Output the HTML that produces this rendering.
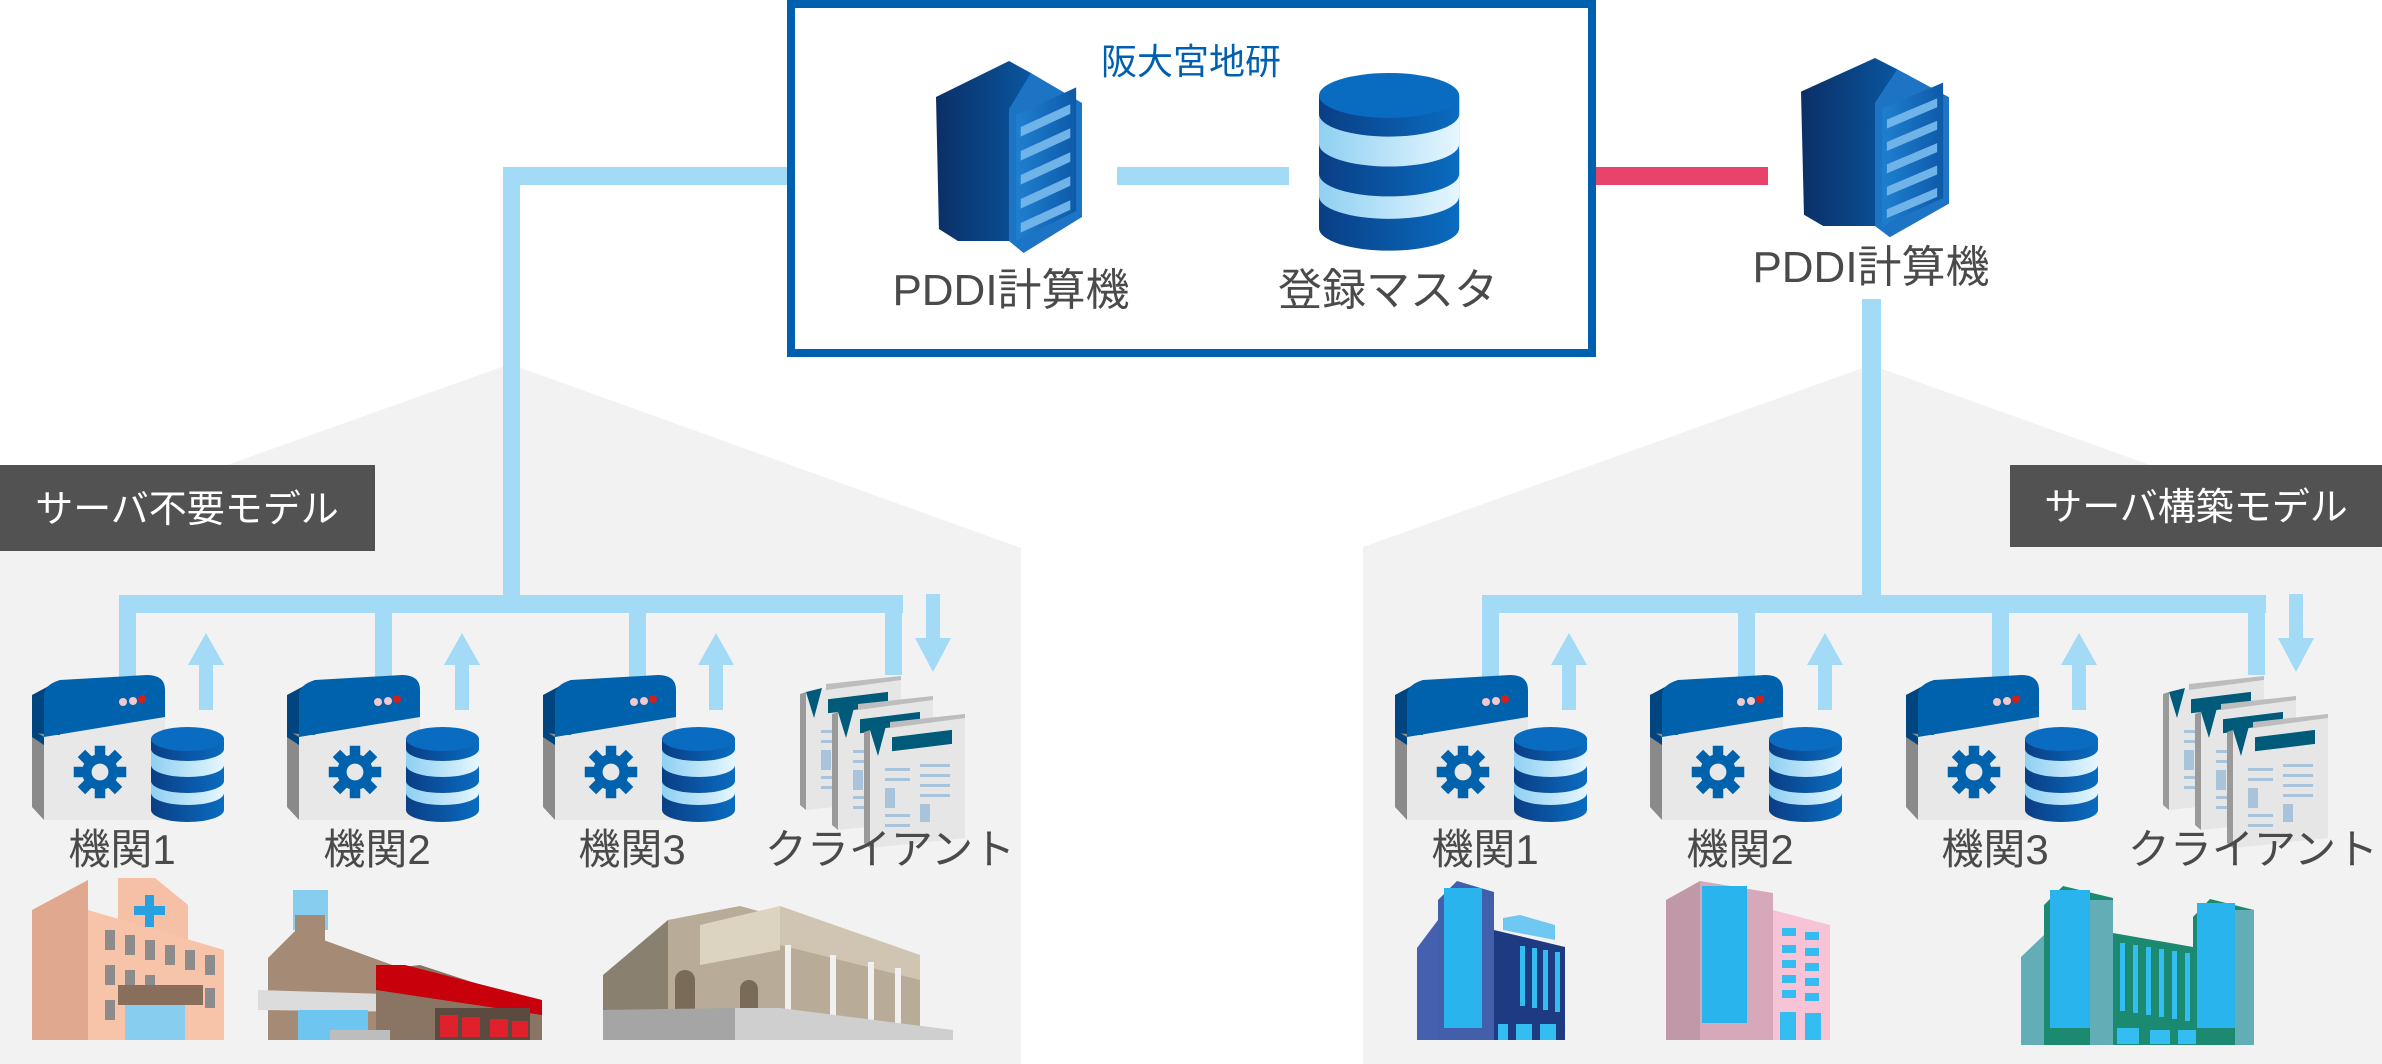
<!DOCTYPE html>
<html><head><meta charset="utf-8"><style>
html,body{margin:0;padding:0;background:#fff;}
svg{display:block;}
text{font-family:"Liberation Sans","Noto Sans CJK JP",sans-serif;}
</style></head><body>
<svg width="2382" height="1064" viewBox="0 0 2382 1064" xmlns="http://www.w3.org/2000/svg">
<defs>
<linearGradient id="srvS" x1="0" x2="1"><stop offset="0" stop-color="#0b2f66"/><stop offset="1" stop-color="#0a56a0"/></linearGradient>
<linearGradient id="srvF" x1="0" x2="1"><stop offset="0" stop-color="#1f7fd0"/><stop offset="1" stop-color="#0d5aa8"/></linearGradient>
<linearGradient id="dbD" x1="0" x2="1"><stop offset="0" stop-color="#0a3e85"/><stop offset="1" stop-color="#0a6cc0"/></linearGradient>
<linearGradient id="dbL" x1="0" x2="1"><stop offset="0" stop-color="#8fd0f2"/><stop offset="1" stop-color="#e6f6ff"/></linearGradient>
<g id="server">
  <polygon points="0,30 50,0 65,10 65,150 15,150 2,140" fill="url(#srvS)"/>
  <polygon points="65,10 100,35 100,130 60,160 50,150 50,40" fill="#1d74c4"/>
  <polygon points="55,45 96,22 96,125 55,150" fill="url(#srvF)"/>
  <g fill="#6fb3e8">
    <polygon points="58,55 92,36 92,44 58,63"/>
    <polygon points="58,75 92,56 92,64 58,83"/>
    <polygon points="58,95 92,76 92,84 58,103"/>
    <polygon points="58,115 92,96 92,104 58,123"/>
    <polygon points="58,135 92,116 92,124 58,143"/>
  </g>
</g>
<g id="db">
  <rect x="0" y="12" width="73" height="71" fill="url(#dbD)"/>
  <ellipse cx="36.5" cy="83" rx="36.5" ry="12" fill="url(#dbD)"/>
  <rect x="0" y="52" width="73" height="14" fill="url(#dbL)"/>
  <ellipse cx="36.5" cy="66" rx="36.5" ry="12" fill="url(#dbL)"/>
  <rect x="0" y="42" width="73" height="12" fill="url(#dbD)"/>
  <ellipse cx="36.5" cy="54" rx="36.5" ry="12" fill="url(#dbD)"/>
  <rect x="0" y="22" width="73" height="16" fill="url(#dbL)"/>
  <ellipse cx="36.5" cy="38" rx="36.5" ry="12" fill="url(#dbL)"/>
  <rect x="0" y="12" width="73" height="10" fill="url(#dbD)"/>
  <ellipse cx="36.5" cy="22" rx="36.5" ry="12" fill="url(#dbD)"/>
  <ellipse cx="36.5" cy="12" rx="36.5" ry="12" fill="#0a6cc0"/>
</g>
<g id="gear">
  <g fill="#0062ad">
    <circle cx="0" cy="0" r="17"/>
    <rect x="-5" y="-25" width="10" height="50"/>
    <rect x="-5" y="-25" width="10" height="50" transform="rotate(45)"/>
    <rect x="-5" y="-25" width="10" height="50" transform="rotate(90)"/>
    <rect x="-5" y="-25" width="10" height="50" transform="rotate(135)"/>
  </g>
  <circle cx="0" cy="0" r="8" fill="#e8e8e8"/>
</g>
<g id="inst">
  <polygon points="0,50 12,40 12,145 0,132" fill="#8a8a8a"/>
  <rect x="12" y="40" width="121" height="105" fill="#e8e8e8"/>
  <polygon points="0,20 28,5 28,60 0,58" fill="#00457f"/>
  <path d="M12,20 Q12,10 28,5 L115,0 Q133,0 133,15 L133,42 L12,62 Z" fill="#0062ad"/>
  <polygon points="0,55 12,62 12,70 0,62" fill="#00457f"/>
  <circle cx="91" cy="27" r="4" fill="#f2c8cc"/><circle cx="101" cy="26" r="4" fill="#f2c8cc"/><circle cx="110" cy="24" r="4" fill="#d0201c"/>
  <use href="#gear" transform="translate(68,97) scale(1.05)"/>
  <use href="#db" transform="translate(119,52)"/>
</g>
<g id="page">
  <polygon points="0,12 95,0 95,120 0,130" fill="#e6e6e6"/>
  <polygon points="0,12 0,130 -6,125 -6,14" fill="#9a9a9a"/>
  <polygon points="20,10 95,0 95,-4 20,4" fill="#bdbdbd"/>
  <polygon points="0,12 16,8 8,38" fill="#005a7a"/>
  <rect x="22" y="22" width="60" height="14" fill="#005a7a" transform="skewY(-7)"/>
  <g fill="#a9c4da"><rect x="15" y="50" width="25" height="3"/><rect x="50" y="46" width="30" height="3"/><rect x="15" y="60" width="25" height="3"/><rect x="50" y="56" width="30" height="3"/><rect x="15" y="70" width="10" height="20"/><rect x="50" y="66" width="30" height="3"/><rect x="50" y="76" width="30" height="3"/><rect x="15" y="96" width="25" height="3"/><rect x="50" y="86" width="10" height="18"/><rect x="15" y="106" width="25" height="3"/></g>
</g>
<g id="docs">
  <use href="#page" transform="translate(6,30)"/>
  <use href="#page" transform="translate(38,50)"/>
  <use href="#page" transform="translate(70,68)"/>
</g>
<g id="upArrow">
  <rect x="-7" y="32" width="14" height="45" fill="#a3daf5"/>
  <polygon points="-18,32 18,32 0,0" fill="#a3daf5"/>
</g>
<g id="downArrow">
  <rect x="-7" y="0" width="14" height="44" fill="#a3daf5"/>
  <polygon points="-18,44 18,44 0,78" fill="#a3daf5"/>
</g>
<g id="labels" fill="#4a4a4a" font-size="42" text-anchor="middle">
  <text x="122" y="864">機関1</text>
  <text x="377" y="864">機関2</text>
  <text x="632" y="864">機関3</text>
  <text x="890" y="864">クライアント</text>
</g>
<g id="section">
  <rect x="119" y="595" width="784" height="18" fill="#a3daf5"/>
  <rect x="119" y="595" width="17" height="85" fill="#a3daf5"/>
  <rect x="375" y="595" width="17" height="85" fill="#a3daf5"/>
  <rect x="629" y="595" width="17" height="85" fill="#a3daf5"/>
  <rect x="885" y="595" width="17" height="80" fill="#a3daf5"/>
  <use href="#upArrow" transform="translate(206,633)"/>
  <use href="#upArrow" transform="translate(462,633)"/>
  <use href="#upArrow" transform="translate(716,633)"/>
  <use href="#downArrow" transform="translate(933,594)"/>
  <use href="#inst" transform="translate(32,675)"/>
  <use href="#inst" transform="translate(287,675)"/>
  <use href="#inst" transform="translate(543,675)"/>
  <use href="#docs" transform="translate(800,650)"/>
  <use href="#labels"/>
</g>
</defs>

<!-- gray houses -->
<polygon points="0,546 510,364 1021,548 1021,1064 0,1064" fill="#f2f2f2"/>
<polygon points="1363,547 1871,365 2382,548 2382,1064 1363,1064" fill="#f2f2f2"/>

<!-- top box -->
<rect x="791" y="4" width="801" height="349" fill="#fff" stroke="#0060b0" stroke-width="8"/>
<text x="1191" y="74" font-size="36" fill="#0060b0" text-anchor="middle">阪大宮地研</text>
<use href="#server" transform="translate(936,61) scale(1.46,1.2)"/>
<text x="1011" y="305" font-size="44" fill="#4a4a4a" text-anchor="middle">PDDI計算機</text>
<use href="#db" transform="translate(1319,73) scale(1.92,1.87)"/>
<text x="1388" y="305" font-size="44" fill="#4a4a4a" text-anchor="middle">登録マスタ</text>
<rect x="1117" y="167" width="172" height="18" fill="#a3daf5"/>
<rect x="1596" y="167" width="172" height="18" fill="#e8436a"/>

<!-- left main connector -->
<rect x="503" y="167" width="284" height="18" fill="#a3daf5"/>
<rect x="503" y="167" width="17" height="430" fill="#a3daf5"/>

<!-- right server -->
<use href="#server" transform="translate(1801,58) scale(1.48,1.12)"/>
<text x="1871" y="282" font-size="44" fill="#4a4a4a" text-anchor="middle">PDDI計算機</text>
<rect x="1862" y="299" width="19" height="298" fill="#a3daf5"/>

<!-- labels -->
<rect x="0" y="465" width="375" height="86" fill="#525252"/>
<text x="187" y="522" font-size="38" fill="#fff" text-anchor="middle">サーバ不要モデル</text>
<rect x="2010" y="465" width="372" height="82" fill="#525252"/>
<text x="2196" y="520" font-size="38" fill="#fff" text-anchor="middle">サーバ構築モデル</text>

<!-- sections -->
<use href="#section"/>
<use href="#section" transform="translate(1363,0)"/>

<!-- left buildings: hospital -->
<g>
  <polygon points="32,910 88,880 88,1040 32,1040" fill="#e0a88e"/>
  <polygon points="118,878 155,878 188,905 188,1040 118,1040" fill="#f5c0a6"/>
  <polygon points="88,910 224,950 224,1040 88,1040" fill="#f7c3a9"/>
  <rect x="145" y="895" width="9" height="32" fill="#29a0e0"/><rect x="134" y="906" width="31" height="9" fill="#29a0e0"/>
  <g fill="#8c8c8c"><rect x="105" y="930" width="10" height="20"/><rect x="125" y="935" width="10" height="20"/><rect x="145" y="940" width="10" height="20"/><rect x="165" y="945" width="10" height="20"/><rect x="185" y="950" width="10" height="20"/><rect x="205" y="955" width="10" height="20"/><rect x="105" y="965" width="10" height="20"/><rect x="125" y="970" width="10" height="20"/><rect x="145" y="975" width="10" height="20"/><rect x="185" y="985" width="10" height="20"/><rect x="205" y="988" width="10" height="20"/><rect x="105" y="1000" width="10" height="20"/><rect x="125" y="1005" width="10" height="20"/></g>
  <rect x="118" y="985" width="85" height="20" fill="#8a6e5c"/>
  <rect x="125" y="1005" width="60" height="35" fill="#86cdf0"/>
</g>
<!-- fire station -->
<g>
  <rect x="293" y="890" width="35" height="40" fill="#86cdf0"/>
  <rect x="295" y="915" width="30" height="60" fill="#a58a76"/>
  <polygon points="268,958 296,930 420,975 420,1040 268,1040" fill="#a58a76"/>
  <polygon points="258,990 420,995 420,1012 258,1010" fill="#dcdcdc"/>
  <rect x="298" y="1010" width="70" height="30" fill="#6ec6f0"/>
  <polygon points="376,970 420,965 542,1005 542,1040 376,1040" fill="#8a7464"/>
  <polygon points="376,965 405,965 542,1000 542,1015 376,990" fill="#c7000b"/>
  <rect x="435" y="1008" width="95" height="32" fill="#5a4a40"/>
  <g fill="#e0202a"><rect x="440" y="1015" width="18" height="22"/><rect x="462" y="1017" width="18" height="20"/><rect x="490" y="1019" width="18" height="18"/><rect x="512" y="1021" width="16" height="16"/></g>
  <rect x="330" y="1030" width="60" height="10" fill="#bdbdbd"/>
</g>
<!-- museum -->
<g>
  <polygon points="603,975 668,920 668,1040 603,1040" fill="#8a8070"/>
  <polygon points="668,920 740,906 920,955 920,1040 668,1040" fill="#b8ac98"/>
  <polygon points="700,925 780,906 780,950 700,965" fill="#ddd3c1"/>
  <polygon points="780,906 920,955 920,980 780,945" fill="#cfc5b2"/>
  <rect x="675" y="970" width="20" height="55" rx="10" fill="#7a6a58"/>
  <rect x="740" y="980" width="18" height="50" rx="9" fill="#7a6a58"/>
  <g fill="#f0f0f0"><rect x="785" y="945" width="6" height="85"/><rect x="830" y="955" width="6" height="75"/><rect x="868" y="962" width="6" height="68"/><rect x="895" y="968" width="6" height="62"/></g>
  <polygon points="603,1010 735,1008 735,1040 603,1040" fill="#a5a5a5"/>
  <polygon points="735,1008 780,1008 953,1030 953,1040 735,1040" fill="#cfcfcf"/>
</g>

<!-- right buildings -->
<g>
  <polygon points="1417,948 1438,920 1438,1040 1417,1040" fill="#4660b0"/>
  <polygon points="1438,900 1457,881 1494,892 1494,1040 1438,1040" fill="#415fab"/>
  <rect x="1444" y="888" width="38" height="140" fill="#2ab4ee"/>
  <polygon points="1494,930 1565,947 1565,1040 1494,1040" fill="#1e3a80"/>
  <polygon points="1503,918 1520,915 1555,925 1555,940 1503,930" fill="#6ec8f2"/>
  <g fill="#33bdf0"><rect x="1520" y="946" width="5" height="60"/><rect x="1532" y="948" width="5" height="60"/><rect x="1543" y="950" width="5" height="60"/><rect x="1555" y="952" width="5" height="60"/><rect x="1498" y="1024" width="10" height="16"/><rect x="1516" y="1024" width="16" height="16"/><rect x="1540" y="1024" width="16" height="16"/></g>
</g>
<g>
  <polygon points="1666,900 1700,881 1700,1040 1666,1040" fill="#c098a8"/>
  <polygon points="1700,881 1773,893 1773,1040 1700,1040" fill="#d7a8ba"/>
  <rect x="1702" y="886" width="45" height="137" fill="#2ab4ee"/>
  <polygon points="1773,910 1830,925 1830,1040 1773,1040" fill="#f7c3d6"/>
  <g fill="#33bdf0"><rect x="1782" y="928" width="14" height="8"/><rect x="1805" y="932" width="14" height="8"/><rect x="1782" y="945" width="14" height="8"/><rect x="1805" y="948" width="14" height="8"/><rect x="1782" y="960" width="14" height="8"/><rect x="1805" y="963" width="14" height="8"/><rect x="1782" y="975" width="14" height="8"/><rect x="1805" y="978" width="14" height="8"/><rect x="1782" y="990" width="14" height="8"/><rect x="1805" y="993" width="14" height="8"/><rect x="1780" y="1012" width="16" height="28"/><rect x="1805" y="1013" width="16" height="27"/></g>
</g>
<g>
  <polygon points="2021,957 2044,935 2044,1045 2021,1045" fill="#63aeb6"/>
  <polygon points="2044,905 2063,886 2113,898 2113,1045 2044,1045" fill="#1c8a70"/>
  <rect x="2050" y="890" width="40" height="138" fill="#2ab4ee"/>
  <rect x="2090" y="900" width="23" height="145" fill="#63aeb6"/>
  <polygon points="2113,933 2210,950 2210,1045 2113,1045" fill="#1c8a70"/>
  <polygon points="2193,917 2210,899 2254,910 2254,1045 2193,1045" fill="#1c8a70"/>
  <rect x="2197" y="903" width="38" height="125" fill="#2ab4ee"/>
  <rect x="2235" y="910" width="19" height="135" fill="#63aeb6"/>
  <g fill="#33bdf0"><rect x="2120" y="943" width="5" height="68"/><rect x="2133" y="945" width="5" height="68"/><rect x="2146" y="947" width="5" height="68"/><rect x="2159" y="949" width="5" height="68"/><rect x="2172" y="951" width="5" height="68"/><rect x="2185" y="953" width="5" height="68"/><rect x="2117" y="1028" width="22" height="16"/><rect x="2150" y="1030" width="20" height="14"/><rect x="2178" y="1030" width="18" height="14"/></g>
</g>
</svg>
</body></html>
